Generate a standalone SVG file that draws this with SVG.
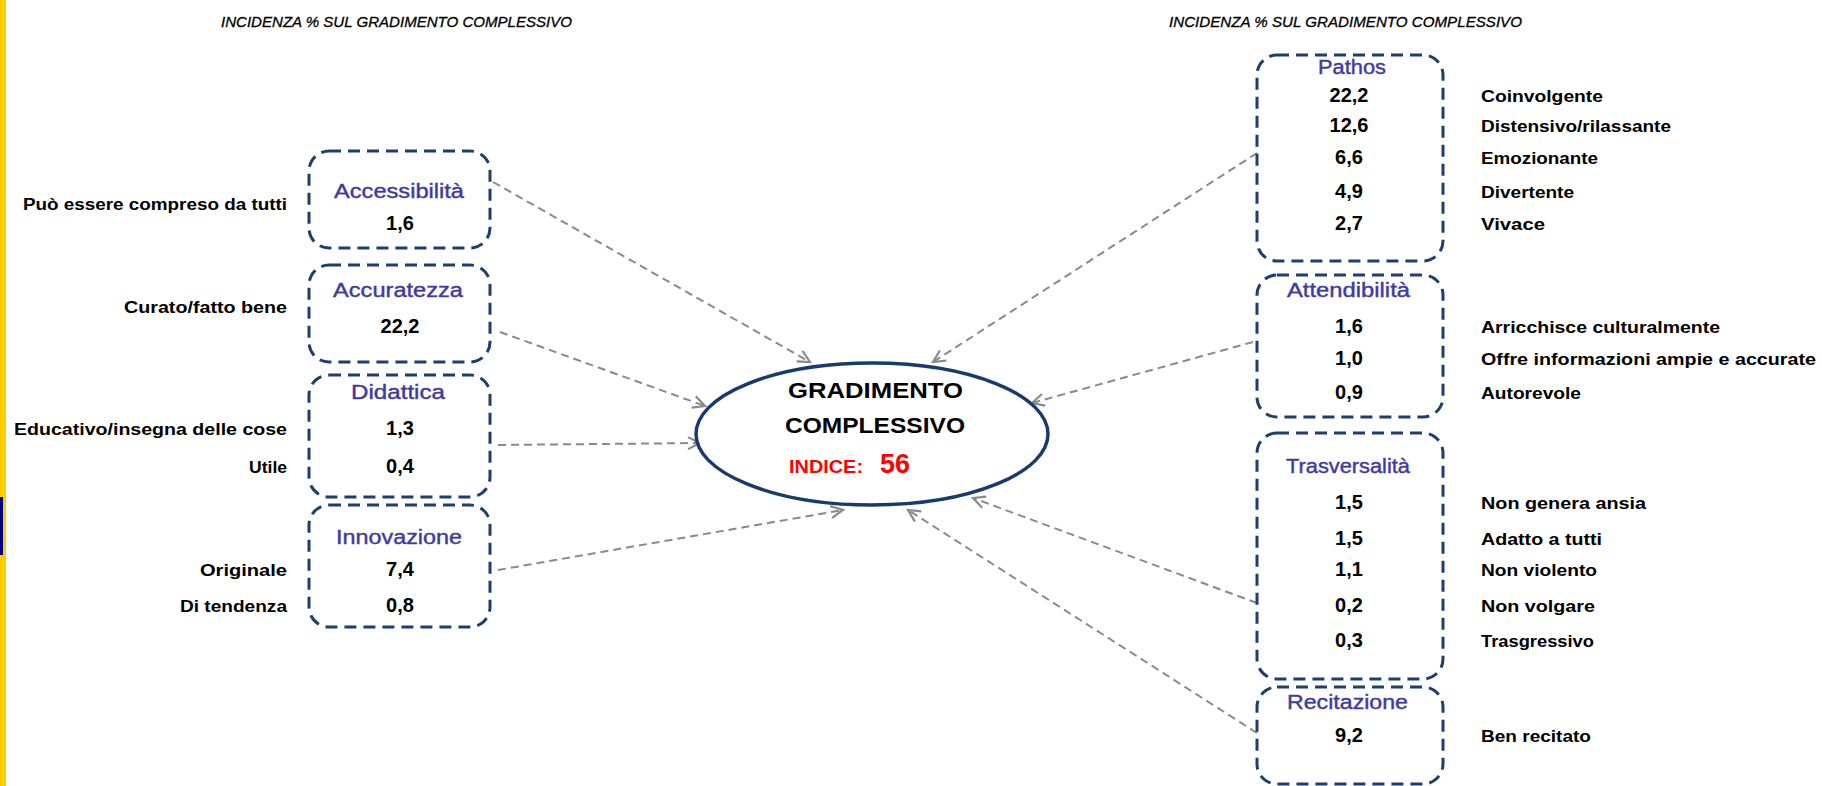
<svg xmlns="http://www.w3.org/2000/svg" width="1822" height="786" viewBox="0 0 1822 786">
<defs>
<marker id="arr" markerUnits="userSpaceOnUse" markerWidth="16" markerHeight="16" refX="13" refY="7" orient="auto">
<path d="M1,1 L13,7 L1,13" fill="none" stroke="#8a8a8a" stroke-width="2.2"/>
</marker>
</defs>
<style>
.box{fill:none;stroke:#1c3f6e;stroke-width:3;stroke-dasharray:12 7}
.ttl{font-family:"Liberation Sans",Arial,sans-serif;font-size:20px;fill:#3f3a9e;stroke:#3f3a9e;stroke-width:0.4}
.val{font-family:"Liberation Sans",Arial,sans-serif;font-size:20px;font-weight:bold;fill:#000;text-anchor:middle}
.lbl{font-family:"Liberation Sans",Arial,sans-serif;font-size:16px;font-weight:bold;fill:#000}
.hdr{font-family:"Liberation Sans",Arial,sans-serif;font-size:15px;font-style:italic;fill:#000;stroke:#000;stroke-width:0.3}
.con{fill:none;stroke:#8a8a8a;stroke-width:2;stroke-dasharray:8 5;marker-end:url(#arr)}
</style>
<rect width="1822" height="786" fill="#ffffff"/>
<rect x="0" y="0" width="6" height="786" fill="#ffcc00"/>
<rect x="0" y="497" width="3" height="58" fill="#000080"/>

<text class="hdr" x="221" y="27" textLength="351" lengthAdjust="spacingAndGlyphs">INCIDENZA % SUL GRADIMENTO COMPLESSIVO</text>
<text class="hdr" x="1169" y="27" textLength="353" lengthAdjust="spacingAndGlyphs">INCIDENZA % SUL GRADIMENTO COMPLESSIVO</text>

<g id="connectors">
<line class="con" x1="493" y1="182" x2="810" y2="362"/>
<line class="con" x1="500" y1="332" x2="705" y2="406"/>
<line class="con" x1="498" y1="445" x2="700" y2="443"/>
<line class="con" x1="498" y1="570" x2="843" y2="510"/>
<line class="con" x1="1257" y1="153" x2="933" y2="362"/>
<line class="con" x1="1253" y1="342" x2="1032" y2="403"/>
<line class="con" x1="1257" y1="603" x2="973" y2="498"/>
<line class="con" x1="1257" y1="733" x2="908" y2="510"/>
</g>

<g id="gradimento">
<ellipse cx="872" cy="434" rx="176" ry="71" fill="#ffffff" stroke="#173c6c" stroke-width="3.5"/>
<text x="788" y="398" font-family="'Liberation Sans',Arial,sans-serif" font-size="22" font-weight="bold" textLength="175" lengthAdjust="spacingAndGlyphs">GRADIMENTO</text>
<text x="785" y="433" font-family="'Liberation Sans',Arial,sans-serif" font-size="22" font-weight="bold" textLength="180" lengthAdjust="spacingAndGlyphs">COMPLESSIVO</text>
<text x="789" y="473" font-family="'Liberation Sans',Arial,sans-serif" font-size="18" font-weight="bold" fill="#ff0000" textLength="74" lengthAdjust="spacingAndGlyphs">INDICE:</text>
<text x="880" y="473" font-family="'Liberation Sans',Arial,sans-serif" font-size="27" font-weight="bold" fill="#ff0000" textLength="30" lengthAdjust="spacingAndGlyphs">56</text>
</g>

<g id="accessibilita">
<rect class="box" x="309" y="151" width="181" height="97" rx="20"/>
<text class="ttl" x="334" y="198" textLength="130" lengthAdjust="spacingAndGlyphs">Accessibilità</text>
<text class="val" x="400" y="230">1,6</text>
<text class="lbl" x="23" y="210" textLength="264" lengthAdjust="spacingAndGlyphs">Può essere compreso da tutti</text>
</g>

<g id="accuratezza">
<rect class="box" x="309" y="265" width="181" height="97" rx="20"/>
<text class="ttl" x="333" y="297" textLength="130" lengthAdjust="spacingAndGlyphs">Accuratezza</text>
<text class="val" x="400" y="333">22,2</text>
<text class="lbl" x="124" y="313" textLength="163" lengthAdjust="spacingAndGlyphs">Curato/fatto bene</text>
</g>

<g id="didattica">
<rect class="box" x="309" y="375" width="181" height="122" rx="20"/>
<text class="ttl" x="351" y="399" textLength="94" lengthAdjust="spacingAndGlyphs">Didattica</text>
<text class="val" x="400" y="435">1,3</text>
<text class="val" x="400" y="473">0,4</text>
<text class="lbl" x="14" y="435" textLength="273" lengthAdjust="spacingAndGlyphs">Educativo/insegna delle cose</text>
<text class="lbl" x="249" y="473" textLength="38" lengthAdjust="spacingAndGlyphs">Utile</text>
</g>

<g id="innovazione">
<rect class="box" x="309" y="505" width="181" height="122" rx="20"/>
<text class="ttl" x="336" y="544" textLength="126" lengthAdjust="spacingAndGlyphs">Innovazione</text>
<text class="val" x="400" y="576">7,4</text>
<text class="val" x="400" y="612">0,8</text>
<text class="lbl" x="200" y="576" textLength="87" lengthAdjust="spacingAndGlyphs">Originale</text>
<text class="lbl" x="180" y="612" textLength="107" lengthAdjust="spacingAndGlyphs">Di tendenza</text>
</g>

<g id="pathos">
<rect class="box" x="1257" y="55" width="186" height="206" rx="20"/>
<text class="ttl" x="1318" y="74" textLength="68" lengthAdjust="spacingAndGlyphs">Pathos</text>
<text class="val" x="1349" y="102">22,2</text>
<text class="val" x="1349" y="132">12,6</text>
<text class="val" x="1349" y="164">6,6</text>
<text class="val" x="1349" y="198">4,9</text>
<text class="val" x="1349" y="230">2,7</text>
<text class="lbl" x="1481" y="102" textLength="122" lengthAdjust="spacingAndGlyphs">Coinvolgente</text>
<text class="lbl" x="1481" y="132" textLength="190" lengthAdjust="spacingAndGlyphs">Distensivo/rilassante</text>
<text class="lbl" x="1481" y="164" textLength="117" lengthAdjust="spacingAndGlyphs">Emozionante</text>
<text class="lbl" x="1481" y="198" textLength="93" lengthAdjust="spacingAndGlyphs">Divertente</text>
<text class="lbl" x="1481" y="230" textLength="64" lengthAdjust="spacingAndGlyphs">Vivace</text>
</g>

<g id="attendibilita">
<rect class="box" x="1257" y="275" width="186" height="142" rx="20"/>
<text class="ttl" x="1287" y="297" textLength="123" lengthAdjust="spacingAndGlyphs">Attendibilità</text>
<text class="val" x="1349" y="333">1,6</text>
<text class="val" x="1349" y="365">1,0</text>
<text class="val" x="1349" y="399">0,9</text>
<text class="lbl" x="1481" y="333" textLength="239" lengthAdjust="spacingAndGlyphs">Arricchisce culturalmente</text>
<text class="lbl" x="1481" y="365" textLength="335" lengthAdjust="spacingAndGlyphs">Offre informazioni ampie e accurate</text>
<text class="lbl" x="1481" y="399" textLength="100" lengthAdjust="spacingAndGlyphs">Autorevole</text>
</g>

<g id="trasversalita">
<rect class="box" x="1257" y="433" width="186" height="246" rx="20"/>
<text class="ttl" x="1286" y="473" textLength="124" lengthAdjust="spacingAndGlyphs">Trasversalità</text>
<text class="val" x="1349" y="509">1,5</text>
<text class="val" x="1349" y="545">1,5</text>
<text class="val" x="1349" y="576">1,1</text>
<text class="val" x="1349" y="612">0,2</text>
<text class="val" x="1349" y="647">0,3</text>
<text class="lbl" x="1481" y="509" textLength="165" lengthAdjust="spacingAndGlyphs">Non genera ansia</text>
<text class="lbl" x="1481" y="545" textLength="121" lengthAdjust="spacingAndGlyphs">Adatto a tutti</text>
<text class="lbl" x="1481" y="576" textLength="116" lengthAdjust="spacingAndGlyphs">Non violento</text>
<text class="lbl" x="1481" y="612" textLength="114" lengthAdjust="spacingAndGlyphs">Non volgare</text>
<text class="lbl" x="1481" y="647" textLength="113" lengthAdjust="spacingAndGlyphs">Trasgressivo</text>
</g>

<g id="recitazione">
<rect class="box" x="1257" y="687" width="186" height="97" rx="20"/>
<text class="ttl" x="1287" y="709" textLength="121" lengthAdjust="spacingAndGlyphs">Recitazione</text>
<text class="val" x="1349" y="742">9,2</text>
<text class="lbl" x="1481" y="742" textLength="110" lengthAdjust="spacingAndGlyphs">Ben recitato</text>
</g>
</svg>
